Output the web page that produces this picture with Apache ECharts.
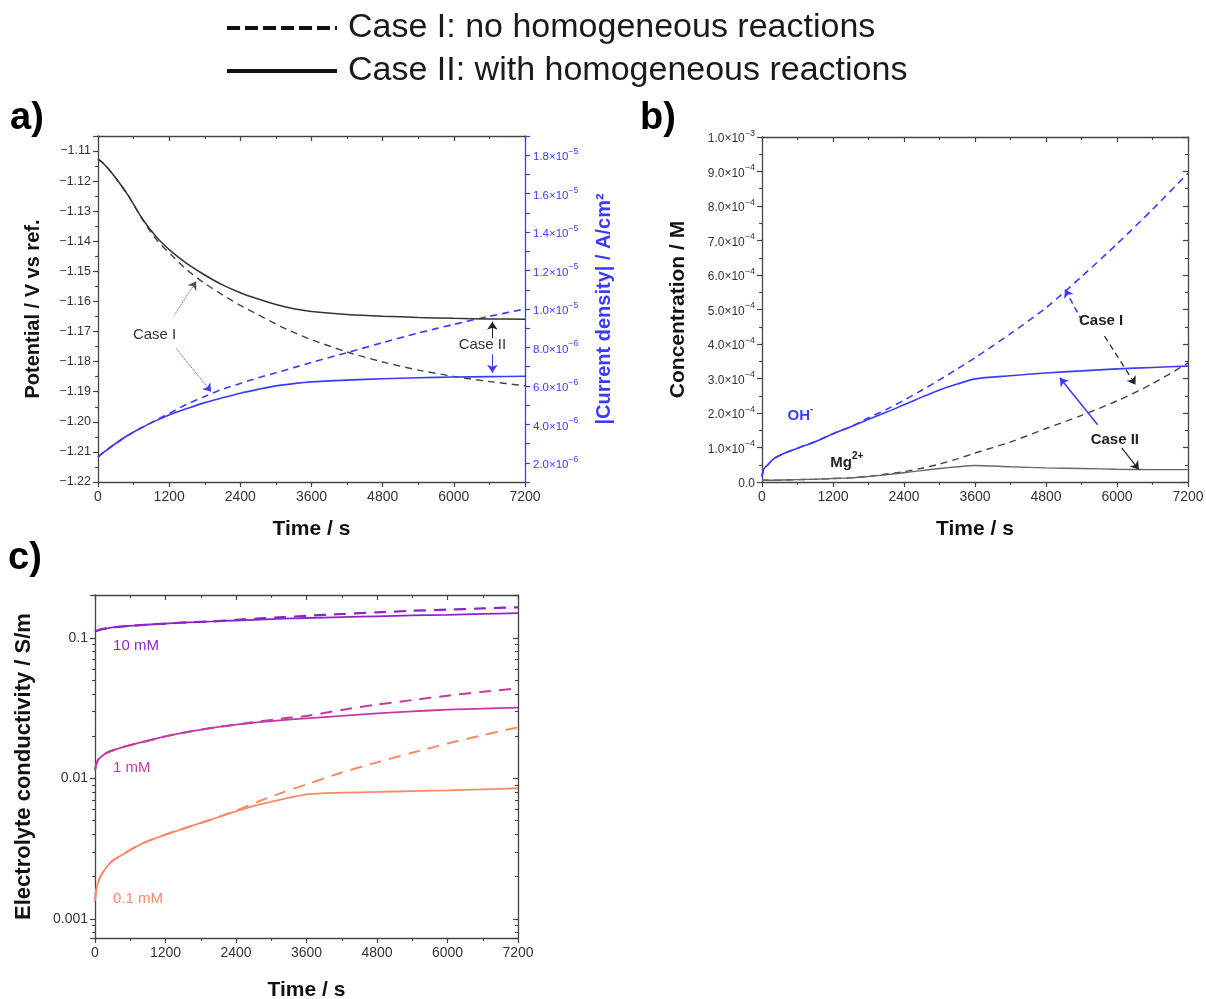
<!DOCTYPE html>
<html>
<head>
<meta charset="utf-8">
<script src="https://cdn.jsdelivr.net/npm/echarts@6/dist/echarts.min.js"></script>
<style>html,body{margin:0;padding:0;background:#fff}#c{width:1206px;height:999px}</style>
</head>
<body>
<div id="c"></div>
<script>
// ---------- DATA ----------
// Panel a: potential (V) and |current density| (A/cm2) vs time (s)
const tA = [0, 100, 250, 500, 750, 1000, 1250, 1500, 1800, 2100, 2400, 2700, 3000, 3300, 3600, 4200, 4800, 5400, 6000, 6600, 7200];
const potCaseI  = [-1.1126, -1.1143, -1.1177, -1.1245, -1.1328, -1.1398, -1.1448, -1.1495, -1.1540, -1.1578, -1.1613, -1.1644, -1.1675, -1.1703, -1.1727, -1.1768, -1.1801, -1.1828, -1.1849, -1.1866, -1.1880];
const potCaseII = [-1.1126, -1.1143, -1.1177, -1.1245, -1.1326, -1.1389, -1.1436, -1.1474, -1.1512, -1.1545, -1.1571, -1.1592, -1.1610, -1.1624, -1.1633, -1.1643, -1.1649, -1.1653, -1.1656, -1.1658, -1.1659];
const curCaseI  = [2.30e-6, 2.55e-6, 2.90e-6, 3.42e-6, 3.85e-6, 4.25e-6, 4.65e-6, 5.05e-6, 5.45e-6, 5.83e-6, 6.13e-6, 6.42e-6, 6.68e-6, 6.95e-6, 7.22e-6, 7.73e-6, 8.25e-6, 8.75e-6, 9.20e-6, 9.62e-6, 1.00e-5];
const curCaseII = [2.30e-6, 2.55e-6, 2.90e-6, 3.42e-6, 3.85e-6, 4.22e-6, 4.55e-6, 4.82e-6, 5.13e-6, 5.38e-6, 5.62e-6, 5.82e-6, 6.00e-6, 6.12e-6, 6.21e-6, 6.30e-6, 6.37e-6, 6.42e-6, 6.46e-6, 6.48e-6, 6.50e-6];

// Panel b: concentration (M) vs time (s)
const tB = [0, 30, 100, 200, 400, 600, 900, 1200, 1500, 1800, 2100, 2400, 2700, 3000, 3300, 3600, 4200, 4800, 5400, 6000, 6600, 7200];
const ohCaseI  = [1.6e-5, 3.8e-5, 5.0e-5, 6.8e-5, 8.5e-5, 9.8e-5, 1.17e-4, 1.40e-4, 1.60e-4, 1.86e-4, 2.10e-4, 2.37e-4, 2.66e-4, 2.96e-4, 3.28e-4, 3.60e-4, 4.30e-4, 5.05e-4, 5.95e-4, 6.90e-4, 7.90e-4, 8.95e-4];
const ohCaseII = [1.6e-5, 3.8e-5, 5.0e-5, 6.8e-5, 8.5e-5, 9.8e-5, 1.17e-4, 1.40e-4, 1.60e-4, 1.82e-4, 2.02e-4, 2.24e-4, 2.46e-4, 2.67e-4, 2.84e-4, 2.99e-4, 3.08e-4, 3.16e-4, 3.22e-4, 3.28e-4, 3.32e-4, 3.36e-4];
const mgCaseI  = [5e-6, 5e-6, 5e-6, 5e-6, 6e-6, 7e-6, 8e-6, 1.0e-5, 1.2e-5, 1.6e-5, 2.3e-5, 3.0e-5, 4.0e-5, 5.2e-5, 6.7e-5, 8.4e-5, 1.16e-4, 1.55e-4, 1.93e-4, 2.35e-4, 2.85e-4, 3.45e-4];
const mgCaseII = [5e-6, 5e-6, 5e-6, 5e-6, 6e-6, 7e-6, 8e-6, 1.0e-5, 1.2e-5, 1.6e-5, 2.1e-5, 2.7e-5, 3.3e-5, 3.9e-5, 4.4e-5, 4.8e-5, 4.4e-5, 4.1e-5, 3.9e-5, 3.7e-5, 3.6e-5, 3.6e-5];

// Panel c: electrolyte conductivity (S/m) vs time (s)
const tC = [0, 20, 50, 100, 200, 300, 500, 800, 1200, 1600, 2000, 2400, 2800, 3200, 3600, 4200, 4800, 5400, 6000, 6600, 7200];
const k10CaseI  = [0.111, 0.112, 0.113, 0.115, 0.117, 0.119, 0.121, 0.1235, 0.1265, 0.129, 0.131, 0.1345, 0.1375, 0.1405, 0.1435, 0.148, 0.152, 0.156, 0.159, 0.162, 0.165];
const k10CaseII = [0.111, 0.112, 0.113, 0.115, 0.117, 0.119, 0.121, 0.1235, 0.1265, 0.129, 0.131, 0.133, 0.135, 0.137, 0.1385, 0.1405, 0.1425, 0.1445, 0.146, 0.148, 0.150];
const k1CaseI   = [0.0114, 0.0125, 0.0135, 0.0142, 0.0152, 0.0158, 0.0168, 0.0181, 0.0199, 0.0215, 0.0229, 0.0241, 0.0254, 0.0267, 0.0278, 0.0307, 0.0335, 0.0361, 0.0388, 0.0413, 0.0438];
const k1CaseII  = [0.0114, 0.0125, 0.0135, 0.0142, 0.0152, 0.0158, 0.0168, 0.0181, 0.0199, 0.0215, 0.0229, 0.0241, 0.0251, 0.0260, 0.0267, 0.0278, 0.0290, 0.0300, 0.0308, 0.0314, 0.0319];
const k01CaseI  = [0.00135, 0.00160, 0.00180, 0.00203, 0.00235, 0.00259, 0.00292, 0.00343, 0.00398, 0.00452, 0.00513, 0.00590, 0.00690, 0.00795, 0.00905, 0.0110, 0.0130, 0.0152, 0.0177, 0.0203, 0.0231];
const k01CaseII = [0.00135, 0.00160, 0.00180, 0.00203, 0.00235, 0.00259, 0.00292, 0.00343, 0.00398, 0.00452, 0.00513, 0.00582, 0.00652, 0.00712, 0.00770, 0.00790, 0.00800, 0.00812, 0.00822, 0.00835, 0.00850];

// Tick settings
const timeTicks = {min: 0, max: 7200, interval: 1200};
const legendNames = ['Case I: no homogeneous reactions', 'Case II: with homogeneous reactions'];

// ---------- STYLE ----------
const FONT = "'Liberation Sans', Arial, Helvetica, sans-serif";
const AX = '#444';
const TXT = '#333';
const BLUE = '#3b3bff';
const BLACK = '#333';
const PURPLE = '#8a25c9';
const MAGENTA = '#c43aa3';
const SALMON = '#f98a68';

function pairs(ts, vs) { return ts.map((t, i) => [t, vs[i]]); }
function sup(mant, exp) { return '{m|' + mant + '×10}{s|' + (exp < 0 ? '−' + (-exp) : exp) + '}'; }
function sci(v) {
  if (Math.abs(v) < 1e-12) return '{m|0.0}';
  const e = Math.floor(Math.log10(Math.abs(v)) + 1e-9);
  const m = v / Math.pow(10, e);
  return sup(m.toFixed(1), e);
}
const richSup = (color) => ({
  m: {fontSize: 12, color: color, fontFamily: FONT, padding: [4, 0, 0, 0]},
  s: {fontSize: 9, color: color, fontFamily: FONT, verticalAlign: 'top', padding: [0, 0, 4, 0]}
});
const nameStyle = (size, color) => ({fontSize: size, fontWeight: 'bold', color: color || '#111', fontFamily: FONT});

function xBottom(grid, name, gap) {
  return Object.assign({
    type: 'value', gridIndex: grid, position: 'bottom',
    name: name, nameLocation: 'middle', nameGap: gap,
    nameTextStyle: nameStyle(21),
    axisLine: {show: true, onZero: false, lineStyle: {color: AX, width: 1.3}},
    axisTick: {show: true, inside: false, length: 5, lineStyle: {color: AX, width: 1.2}},
    minorTick: {show: true, splitNumber: 2, length: 3, lineStyle: {color: AX, width: 1.1}},
    axisLabel: {color: TXT, fontSize: 14, fontFamily: FONT, margin: 8, formatter: v => String(v)},
    splitLine: {show: false}
  }, timeTicks);
}
function xTop(grid) {
  return Object.assign({
    type: 'value', gridIndex: grid, position: 'top',
    axisLine: {show: true, onZero: false, lineStyle: {color: AX, width: 1.3}},
    axisTick: {show: true, inside: true, length: 5, lineStyle: {color: AX, width: 1.2}},
    minorTick: {show: true, splitNumber: 2, length: 3, lineStyle: {color: AX, width: 1.1}},
    axisLabel: {show: false}, splitLine: {show: false}
  }, timeTicks);
}

function lineSeries(name, xi, yi, ts, vs, color, dashed, width, extra) {
  return Object.assign({
    type: 'line', name: name, xAxisIndex: xi, yAxisIndex: yi,
    data: pairs(ts, vs), showSymbol: false, symbol: 'none', smooth: 0.25,
    lineStyle: {color: color, width: width || 1.5, type: dashed ? [7, 5] : 'solid'},
    itemStyle: {color: color}, silent: true, z: dashed ? 3 : 4
  }, extra || {});
}

function arrow(p1, p2, color, type, width) {
  return [{coord: p1, lineStyle: {color: color, type: type, width: width || 1.2}}, {coord: p2}];
}
function markArrows(list) {
  return {silent: true, animation: false, symbol: ['none', 'arrow'], symbolSize: 8,
    label: {show: false}, emphasis: {disabled: true}, data: list};
}
function markTexts(list) {
  return {silent: true, animation: false, symbol: 'rect', symbolSize: 1,
    itemStyle: {color: 'rgba(0,0,0,0)'}, emphasis: {disabled: true},
    data: list.map(o => ({coord: o.coord, label: Object.assign({show: true, position: 'inside', formatter: o.text, fontFamily: FONT, fontSize: 15, color: '#333'}, o.style || {})}))};
}

const chart = echarts.init(document.getElementById('c'), null, {renderer: 'canvas'});

const option = {
  animation: false,
  backgroundColor: '#fff',
  textStyle: {fontFamily: FONT},
  legend: {
    data: legendNames, orient: 'vertical', left: 225, top: 10, padding: 0,
    itemWidth: 110, itemHeight: 16, itemGap: 7,
    selectedMode: false,
    itemStyle: {opacity: 0, borderWidth: 0},
    lineStyle: {width: 4},
    textStyle: {fontSize: 34, lineHeight: 36, color: '#1a1a1a', fontFamily: FONT, padding: [0, 0, 0, 6]}
  },
  graphic: [
    {type: 'text', left: 10, top: 100, style: {text: 'a)', font: 'bold 38px ' + FONT, fill: '#000'}},
    {type: 'text', left: 640, top: 100, style: {text: 'b)', font: 'bold 38px ' + FONT, fill: '#000'}},
    {type: 'text', left: 8, top: 540, style: {text: 'c)', font: 'bold 38px ' + FONT, fill: '#000'}}
  ],
  grid: [
    {left: 98, top: 136, width: 427, height: 346, outerBoundsMode: 'none', containLabel: false},
    {left: 762, top: 137, width: 426, height: 345, outerBoundsMode: 'none', containLabel: false},
    {left: 95, top: 595, width: 423, height: 343, outerBoundsMode: 'none', containLabel: false}
  ],
  xAxis: [
    xBottom(0, 'Time / s', 37), xTop(0),
    xBottom(1, 'Time / s', 37), xTop(1),
    xBottom(2, 'Time / s', 42), xTop(2)
  ],
  yAxis: [
    { // a left: potential
      type: 'value', gridIndex: 0, position: 'left', min: -1.22, max: -1.105, interval: 0.01,
      name: 'Potential / V vs ref.', nameLocation: 'middle', nameGap: 55, nameRotate: 90,
      nameTextStyle: nameStyle(20),
      axisLine: {show: true, onZero: false, lineStyle: {color: AX, width: 1.3}},
      axisTick: {show: true, length: 5, lineStyle: {color: AX, width: 1.2}},
      minorTick: {show: true, splitNumber: 2, length: 3, lineStyle: {color: AX, width: 1.1}},
      axisLabel: {showMaxLabel: false, color: TXT, fontSize: 12.5, fontFamily: FONT, margin: 7,
        formatter: v => v.toFixed(2).replace('-', '−')},
      splitLine: {show: false}
    },
    { // a right: current density
      type: 'value', gridIndex: 0, position: 'right', min: 1e-6, max: 1.9e-5, interval: 1e-6,
      name: '|Current density| / A/cm²', nameLocation: 'middle', nameGap: 69, nameRotate: 90,
      nameTextStyle: nameStyle(20, BLUE),
      axisLine: {show: true, onZero: false, lineStyle: {color: BLUE, width: 1.3}},
      axisTick: {show: true, length: 5, lineStyle: {color: BLUE, width: 1.2}},
      axisLabel: {color: BLUE, fontSize: 11, fontFamily: FONT, margin: 8, rich: {
          m: {fontSize: 11.5, color: BLUE, fontFamily: FONT, padding: [4, 0, 0, 0]},
          s: {fontSize: 8.5, color: BLUE, fontFamily: FONT, verticalAlign: 'top', padding: [0, 0, 4, 0]}},
        formatter: v => { const k = Math.round(v * 1e6); return (k % 2 === 0 && k >= 2 && k <= 18) ? sci(k * 1e-6) : ''; }},
      splitLine: {show: false}
    },
    { // b left: concentration
      type: 'value', gridIndex: 1, position: 'left', min: 0, max: 1e-3, interval: 1e-4,
      name: 'Concentration / M', nameLocation: 'middle', nameGap: 73, nameRotate: 90,
      nameTextStyle: nameStyle(21),
      axisLine: {show: true, onZero: false, lineStyle: {color: AX, width: 1.3}},
      axisTick: {show: true, length: 5, lineStyle: {color: AX, width: 1.2}},
      minorTick: {show: true, splitNumber: 2, length: 3, lineStyle: {color: AX, width: 1.1}},
      axisLabel: {color: TXT, fontSize: 12, fontFamily: FONT, margin: 7, rich: richSup(TXT), formatter: v => sci(v)},
      splitLine: {show: false}
    },
    { // b right mirror
      type: 'value', gridIndex: 1, position: 'right', min: 0, max: 1e-3, interval: 1e-4,
      axisLine: {show: true, onZero: false, lineStyle: {color: AX, width: 1.3}},
      axisTick: {show: true, inside: true, length: 5, lineStyle: {color: AX, width: 1.2}},
      minorTick: {show: true, splitNumber: 2, length: 3, lineStyle: {color: AX, width: 1.1}},
      axisLabel: {show: false}, splitLine: {show: false}
    },
    { // c left: log conductivity
      type: 'log', logBase: 10, gridIndex: 2, position: 'left', min: 0.00073, max: 0.202,
      name: 'Electrolyte conductivity / S/m', nameLocation: 'middle', nameGap: 60, nameRotate: 90,
      nameTextStyle: nameStyle(22),
      axisLine: {show: true, onZero: false, lineStyle: {color: AX, width: 1.3}},
      axisTick: {show: true, length: 5, lineStyle: {color: AX, width: 1.2}},
      minorTick: {show: true, splitNumber: 9, length: 3, lineStyle: {color: AX, width: 1.1}},
      axisLabel: {showMinLabel: false, showMaxLabel: false, color: TXT, fontSize: 14, fontFamily: FONT, margin: 7,
        formatter: v => String(Number(v.toPrecision(1)))},
      splitLine: {show: false}
    },
    { // c right mirror
      type: 'log', logBase: 10, gridIndex: 2, position: 'right', min: 0.00073, max: 0.202,
      axisLine: {show: true, onZero: false, lineStyle: {color: AX, width: 1.3}},
      axisTick: {show: true, inside: true, length: 5, lineStyle: {color: AX, width: 1.2}},
      minorTick: {show: true, splitNumber: 9, length: 3, lineStyle: {color: AX, width: 1.1}},
      axisLabel: {show: false}, splitLine: {show: false}
    }
  ],
  series: [
    // legend dummies
    {type: 'line', name: legendNames[0], xAxisIndex: 0, yAxisIndex: 0, data: [], symbol: 'none', showSymbol: false,
      lineStyle: {color: '#111', width: 4, type: [13, 5]}, itemStyle: {color: '#111'}},
    {type: 'line', name: legendNames[1], xAxisIndex: 0, yAxisIndex: 0, data: [], symbol: 'none', showSymbol: false,
      lineStyle: {color: '#111', width: 4, type: 'solid'}, itemStyle: {color: '#111'}},

    // ---- panel a ----
    lineSeries('potI', 0, 0, tA, potCaseI, '#444', true, 1.4, {
      markLine: markArrows([arrow([1291, -1.1644], [1656, -1.1533], '#555', 'dotted', 1)]),
      markPoint: markTexts([{coord: [954, -1.1711], text: 'Case I'}])
    }),
    lineSeries('potII', 0, 0, tA, potCaseII, BLACK, false, 1.5, {
      markLine: markArrows([arrow([6650, -1.1722], [6650, -1.1667], '#222', 'solid', 1)]),
      markPoint: markTexts([{coord: [6482, -1.1744], text: 'Case II'}])
    }),
    lineSeries('curI', 0, 1, tA, curCaseI, BLUE, true, 1.6, {
      markLine: markArrows([arrow([1319, 7.95e-6], [1908, 5.69e-6], BLUE, 'dotted', 1)])
    }),
    lineSeries('curII', 0, 1, tA, curCaseII, BLUE, false, 1.6, {
      markLine: markArrows([arrow([6650, 7.65e-6], [6650, 6.68e-6], BLUE, 'solid', 1)])
    }),

    // ---- panel b ----
    lineSeries('ohI', 2, 2, tB, ohCaseI, BLUE, true, 1.6, {
      markLine: markArrows([arrow([5412, 4.66e-4], [5121, 5.58e-4], BLUE, [6, 4], 1.5)]),
      markPoint: markTexts([{coord: [650, 1.97e-4], text: '{b|OH}{s|-}',
        style: {rich: {b: {fontSize: 15, fontWeight: 'bold', color: BLUE, fontFamily: FONT, padding: [4,0,0,0]},
                       s: {fontSize: 10, fontWeight: 'bold', color: BLUE, fontFamily: FONT, verticalAlign: 'top', padding: [0,0,4,0]}}}}])
    }),
    lineSeries('ohII', 2, 2, tB, ohCaseII, BLUE, false, 1.6, {
      markLine: markArrows([arrow([5673, 1.66e-4], [5034, 3.02e-4], BLUE, 'solid', 1.5)])
    }),
    lineSeries('mgI', 2, 2, tB, mgCaseI, '#444', true, 1.4, {
      markLine: markArrows([arrow([5789, 4.23e-4], [6312, 2.82e-4], '#222', [6, 4], 1.2)]),
      markPoint: markTexts([
        {coord: [5731, 4.68e-4], text: 'Case I', style: {fontWeight: 'bold', color: '#222'}},
        {coord: [1434, 0.62e-4], text: '{b|Mg}{s|2+}',
          style: {rich: {b: {fontSize: 15, fontWeight: 'bold', color: '#222', fontFamily: FONT, padding: [4,0,0,0]},
                         s: {fontSize: 10, fontWeight: 'bold', color: '#222', fontFamily: FONT, verticalAlign: 'top', padding: [0,0,4,0]}}}}
      ])
    }),
    lineSeries('mgII', 2, 2, tB, mgCaseII, '#666', false, 1.4, {
      markLine: markArrows([arrow([6079, 0.99e-4], [6370, 0.36e-4], '#222', 'solid', 1.2)]),
      markPoint: markTexts([{coord: [5963, 1.23e-4], text: 'Case II', style: {fontWeight: 'bold', color: '#222'}}])
    }),

    // ---- panel c ----
    lineSeries('k10I', 4, 4, tC, k10CaseI, PURPLE, true, 2.2, {lineStyle: {color: PURPLE, width: 2.2, type: [12, 8]}}),
    lineSeries('k10II', 4, 4, tC, k10CaseII, PURPLE, false, 1.8, {
      markPoint: markTexts([{coord: [214, 0.088], text: '10 mM', style: {position: 'right', color: PURPLE, fontSize: 15}}])
    }),
    lineSeries('k1I', 4, 4, tC, k1CaseI, MAGENTA, true, 2, {lineStyle: {color: MAGENTA, width: 2, type: [12, 8]}}),
    lineSeries('k1II', 4, 4, tC, k1CaseII, MAGENTA, false, 1.8, {
      markPoint: markTexts([{coord: [214, 0.0119], text: '1 mM', style: {position: 'right', color: MAGENTA, fontSize: 15}}])
    }),
    lineSeries('k01I', 4, 4, tC, k01CaseI, SALMON, true, 2, {lineStyle: {color: SALMON, width: 2, type: [12, 8]}}),
    lineSeries('k01II', 4, 4, tC, k01CaseII, SALMON, false, 1.8, {
      markPoint: markTexts([{coord: [214, 0.00139], text: '0.1 mM', style: {position: 'right', color: SALMON, fontSize: 15}}])
    })
  ]
};
chart.setOption(option);
</script>
</body>
</html>
